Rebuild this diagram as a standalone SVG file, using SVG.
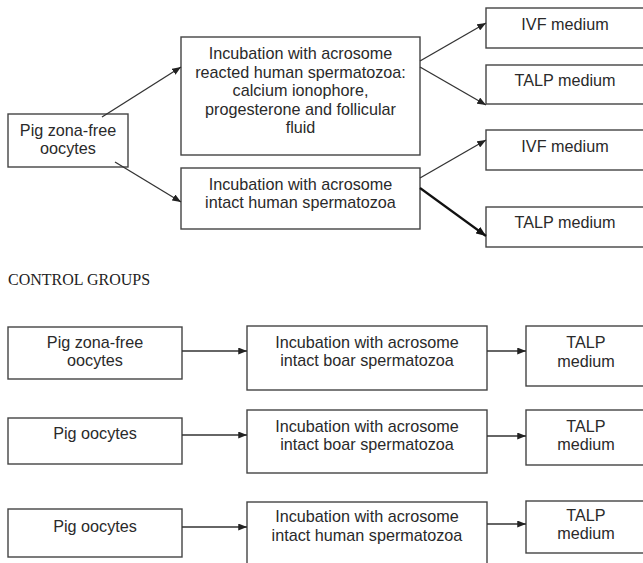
<svg xmlns="http://www.w3.org/2000/svg" width="643" height="563" viewBox="0 0 643 563">
<defs>
<marker id="ah" viewBox="0 0 10 8" refX="10" refY="4" markerWidth="9" markerHeight="7" markerUnits="userSpaceOnUse" orient="auto">
<path d="M0,0 L10,4 L0,8 z" fill="#222"/>
</marker>
<marker id="ahb" viewBox="0 0 10 8" refX="10" refY="4" markerWidth="10" markerHeight="8" markerUnits="userSpaceOnUse" orient="auto">
<path d="M0,0 L10,4 L0,8 z" fill="#111"/>
</marker>
</defs>
<style>
rect{fill:#fff;stroke:#444;stroke-width:1.4}
text{font-family:"Liberation Sans",Arial,sans-serif;font-size:16.2px;fill:#2a2a2a;text-anchor:middle}
.c{font-family:"Liberation Serif","Times New Roman",serif;font-size:16px;text-anchor:start;fill:#222}
.e line{stroke:#333;stroke-width:1.3;marker-end:url(#ah)}
.e line.b{stroke:#111;stroke-width:2.2;marker-end:url(#ahb)}
</style>
<rect x="0" y="0" width="643" height="563" style="fill:#fff;stroke:none"/>

<g id="n1"><rect x="8" y="114" width="120" height="53"/><text x="68" y="136">Pig zona-free</text><text x="68" y="154">oocytes</text></g>
<g id="n2"><rect x="181" y="37" width="239" height="118"/>
<text x="300.5" y="59">Incubation with acrosome</text>
<text x="300.5" y="77.5">reacted human spermatozoa:</text>
<text x="300.5" y="96">calcium ionophore,</text>
<text x="300.5" y="114.5">progesterone and follicular</text>
<text x="300.5" y="133">fluid</text></g>
<g id="n3"><rect x="181" y="168" width="239" height="61"/>
<text x="300.5" y="190">Incubation with acrosome</text>
<text x="300.5" y="208">intact human spermatozoa</text></g>
<g id="n4"><rect x="486" y="8" width="180" height="40"/><text x="565" y="30">IVF medium</text></g>
<g id="n5"><rect x="486" y="65" width="180" height="39"/><text x="565" y="86">TALP medium</text></g>
<g id="n6"><rect x="486" y="130" width="180" height="40"/><text x="565" y="152">IVF medium</text></g>
<g id="n7"><rect x="486" y="207" width="180" height="40"/><text x="565" y="228">TALP medium</text></g>

<text class="c" x="8" y="285">CONTROL GROUPS</text>

<g id="c1a"><rect x="8" y="327" width="174" height="52"/><text x="95" y="348">Pig zona-free</text><text x="95" y="366">oocytes</text></g>
<g id="c1b"><rect x="247" y="326" width="240" height="64"/><text x="367" y="348">Incubation with acrosome</text><text x="367" y="366">intact boar spermatozoa</text></g>
<g id="c1c"><rect x="526" y="326" width="140" height="60"/><text x="586" y="348">TALP</text><text x="586" y="367">medium</text></g>

<g id="c2a"><rect x="8" y="418" width="174" height="46"/><text x="95" y="439">Pig oocytes</text></g>
<g id="c2b"><rect x="247" y="410" width="240" height="63"/><text x="367" y="432">Incubation with acrosome</text><text x="367" y="450">intact boar spermatozoa</text></g>
<g id="c2c"><rect x="526" y="410" width="140" height="55"/><text x="586" y="432">TALP</text><text x="586" y="450">medium</text></g>

<g id="c3a"><rect x="8" y="509" width="174" height="48"/><text x="95" y="532">Pig oocytes</text></g>
<g id="c3b"><rect x="247" y="502" width="240" height="80"/><text x="367" y="522">Incubation with acrosome</text><text x="367" y="541">intact human spermatozoa</text></g>
<g id="c3c"><rect x="526" y="501" width="140" height="52"/><text x="586" y="521">TALP</text><text x="586" y="539">medium</text></g>

<g id="edges" class="e">
<line x1="102" y1="117" x2="181" y2="67"/>
<line x1="115" y1="162" x2="181" y2="202"/>
<line x1="420" y1="61" x2="486" y2="23"/>
<line x1="420" y1="67" x2="486" y2="105"/>
<line x1="420" y1="178" x2="486" y2="140"/>
<line class="b" x1="420" y1="188" x2="486" y2="236"/>
<line x1="182" y1="351" x2="247" y2="351"/>
<line x1="487" y1="351" x2="526" y2="351"/>
<line x1="182" y1="435" x2="247" y2="435"/>
<line x1="487" y1="436" x2="526" y2="436"/>
<line x1="182" y1="527" x2="247" y2="527"/>
<line x1="487" y1="524" x2="526" y2="524"/>
</g>
</svg>
